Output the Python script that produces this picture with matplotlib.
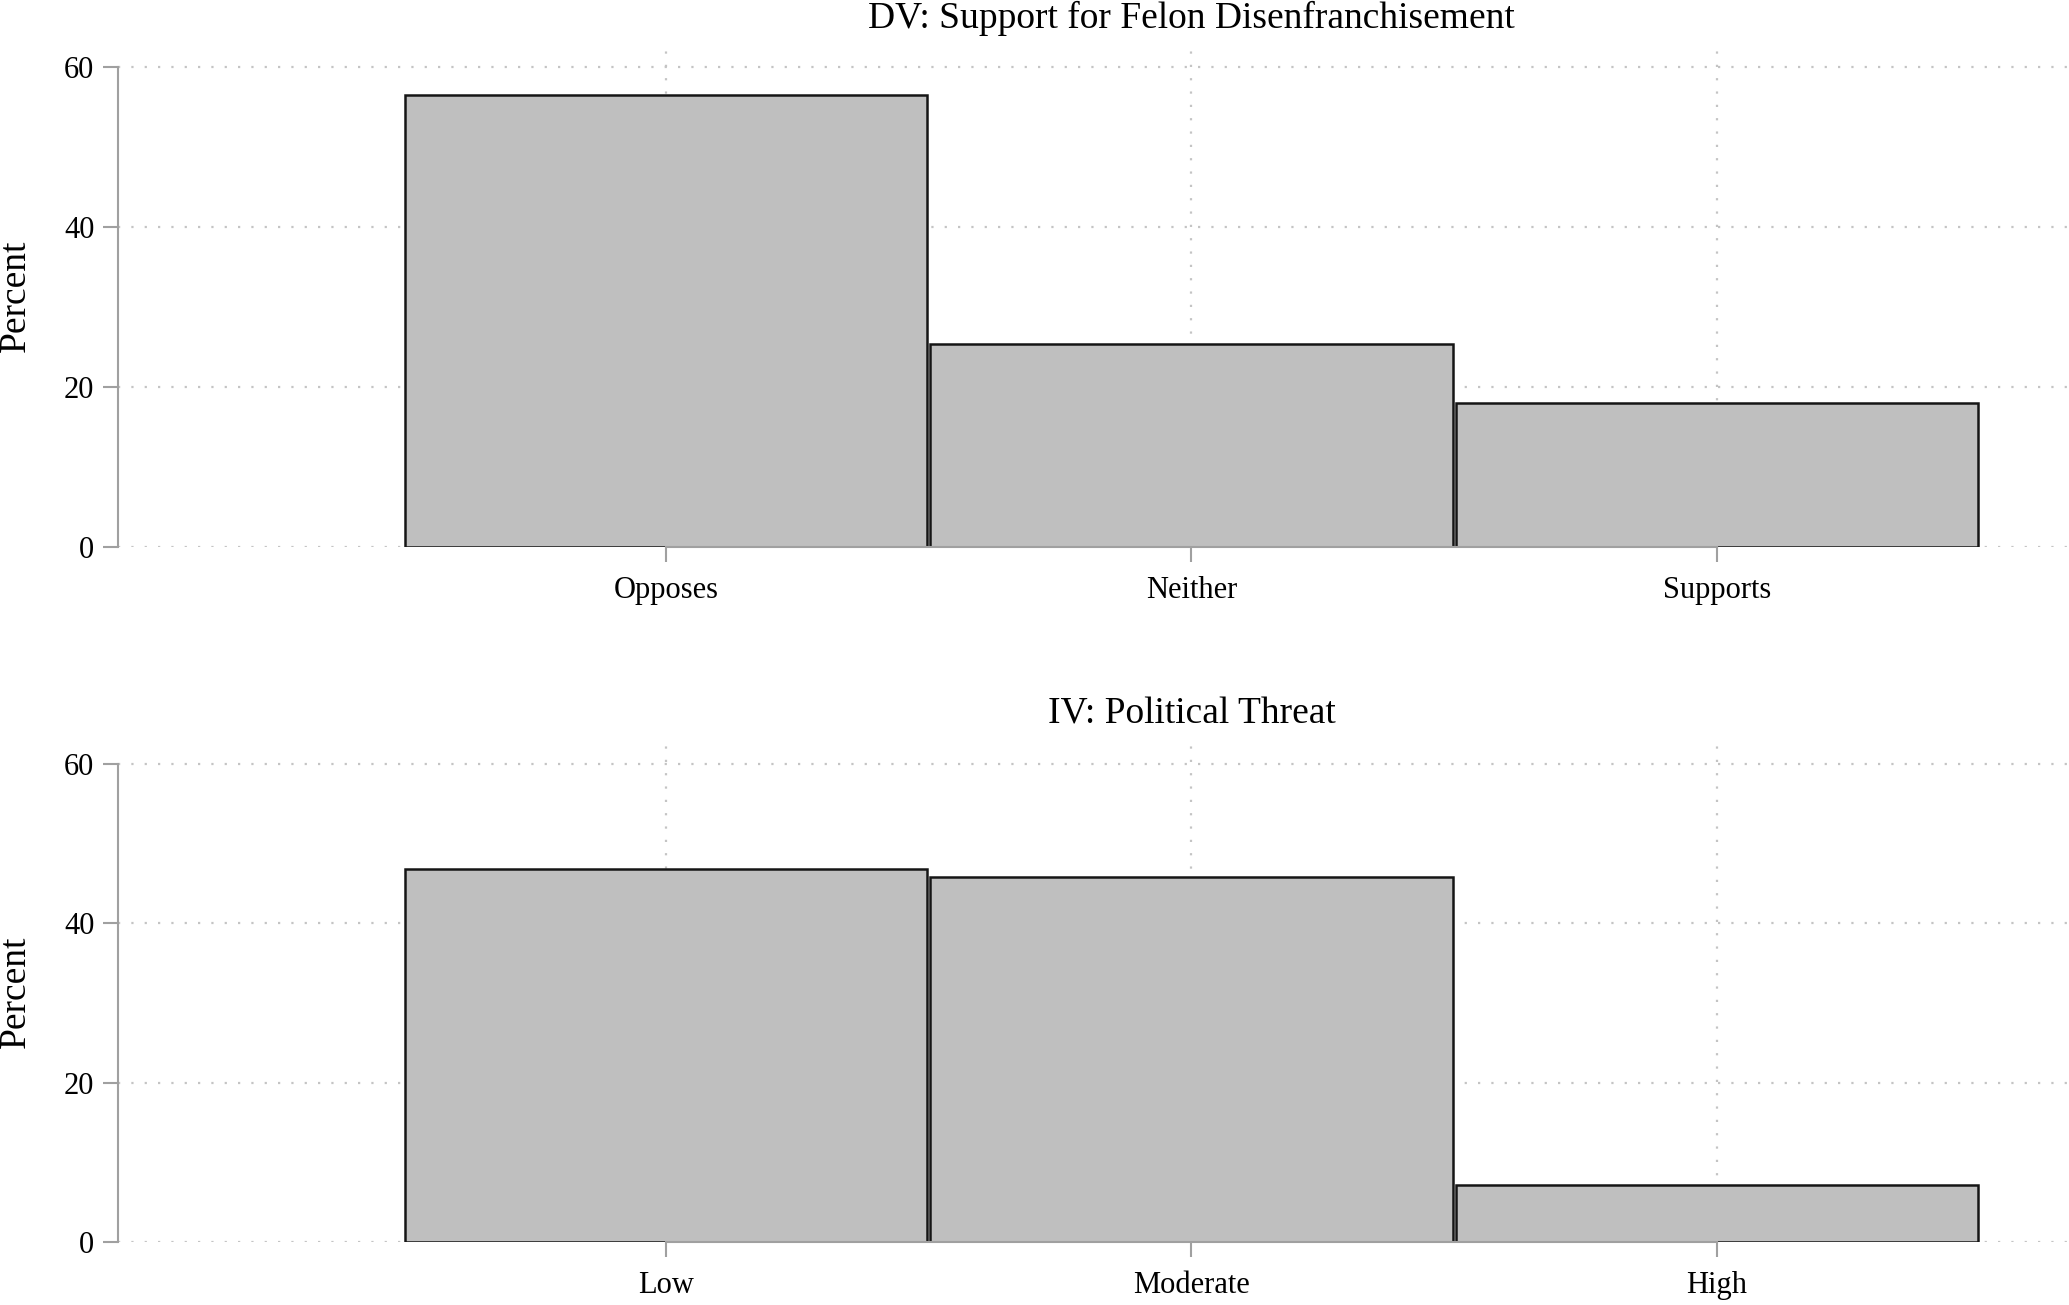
import matplotlib
matplotlib.use("Agg")
import matplotlib.pyplot as plt
import numpy as np

plt.rcParams['font.family'] = ['Liberation Serif', 'DejaVu Serif']

dv_title = "DV: Support for Felon Disenfranchisement"
dv_cats = ["Opposes", "Neither", "Supports"]
dv_pct = [56.5, 25.4, 18.0]

iv_title = "IV: Political Threat"
iv_cats = ["Low", "Moderate", "High"]
iv_pct = [46.8, 45.8, 7.2]

y_ticks = [0, 20, 40, 60]
y_label = "Percent"

W, H = 2069, 1305
fig = plt.figure(figsize=(W / 100, H / 100), dpi=100)

def frac_y(py):
    return 1 - py / H

panels = [
    (dv_title, dv_cats, dv_pct, 547, 8.0),
    (iv_title, iv_cats, iv_pct, 1242, 7.967),
]

grid_col = "#c4c4c4"
spine_col = "#a0a0a0"

for title, cats, vals, y0px, ppu in panels:
    ytop = 62.75
    top_px = y0px - ytop * ppu
    left = 118 / W
    bottom = frac_y(y0px)
    height = (y0px - top_px) / H
    ax = fig.add_axes([left, bottom, 1 - left, height])
    x = np.arange(len(cats))
    ax.bar(x, vals, width=0.995, color="#bfbfbf", edgecolor="#151515",
           linewidth=1.8, zorder=2)
    ax.set_xlim(-1.043, 2.67)
    ax.set_ylim(0, ytop)
    ax.set_axisbelow(True)
    ax.set_xticks(x)
    ax.set_xticklabels(cats, fontsize=22)
    ax.set_yticks(y_ticks)
    ax.set_yticklabels([str(t) for t in y_ticks], fontsize=22)
    for s in ["top", "right"]:
        ax.spines[s].set_visible(False)
    ax.spines["left"].set_bounds(0, 60)
    ax.spines["bottom"].set_bounds(0, 2)
    for s in ["left", "bottom"]:
        ax.spines[s].set_color(spine_col)
        ax.spines[s].set_linewidth(1.5)
        ax.spines[s].set_zorder(3)
    ax.tick_params(axis="both", colors=spine_col, width=1.5, length=11,
                   labelcolor="black")
    ax.tick_params(axis="y", pad=6)
    ax.tick_params(axis="x", pad=10)
    ax.grid(True, color=grid_col, linestyle=(0, (1, 5)), linewidth=1.6)
    ax.set_ylabel(y_label, fontsize=27)
    ax.yaxis.set_label_coords(-0.0436, 0.5)
    tpx = 18.5 if y0px < 700 else 714
    fig.text(1191.5 / W, frac_y(tpx), title, ha="center", va="center",
             fontsize=27)

fig.savefig("out.png", dpi=100)
